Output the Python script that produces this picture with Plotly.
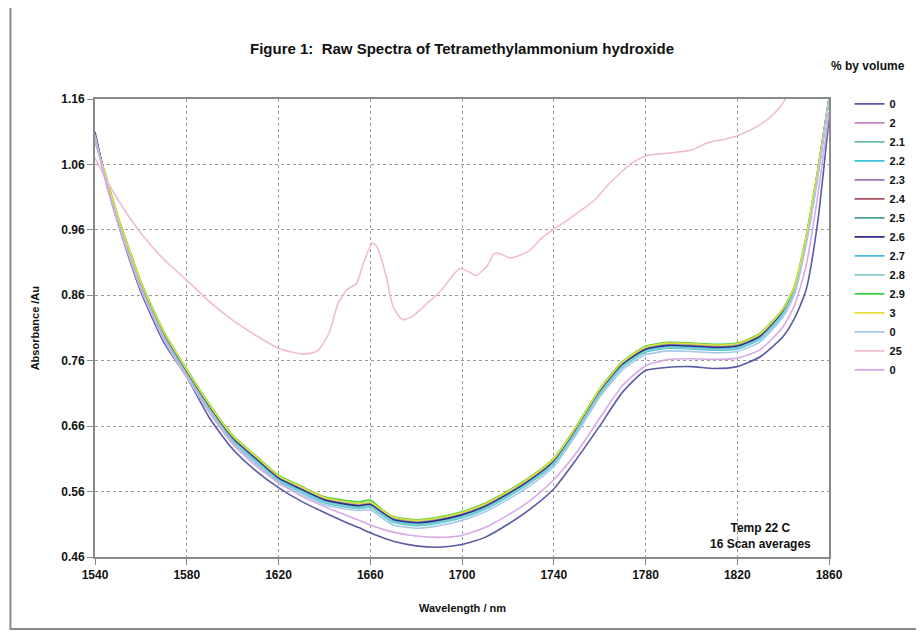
import plotly.graph_objects as go

# wavelengths (nm) shared by the 14 "band" spectra
wavelength = [1540, 1545, 1550, 1555, 1560, 1570, 1580, 1590, 1600, 1610,
              1620, 1630, 1640, 1650, 1655, 1660, 1665, 1670, 1680, 1690,
              1700, 1710, 1720, 1730, 1740, 1750, 1760, 1770, 1780, 1790,
              1800, 1810, 1820, 1830, 1840, 1845, 1850, 1855, 1860]

abs_0a = [1.110, 1.030, 0.970, 0.915, 0.865, 0.788, 0.735, 0.672, 0.625, 0.592,
          0.566, 0.545, 0.528, 0.512, 0.505, 0.497, 0.490, 0.484, 0.477, 0.475,
          0.479, 0.490, 0.510, 0.534, 0.564, 0.610, 0.660, 0.712, 0.745, 0.750,
          0.751, 0.748, 0.751, 0.766, 0.797, 0.825, 0.868, 0.970, 1.130]
abs_2 = [1.100, 1.036, 0.978, 0.927, 0.878, 0.802, 0.744, 0.690, 0.643, 0.612,
         0.582, 0.565, 0.549, 0.542, 0.540, 0.542, 0.530, 0.519, 0.514, 0.518,
         0.526, 0.539, 0.558, 0.580, 0.608, 0.658, 0.714, 0.756, 0.779, 0.785,
         0.784, 0.782, 0.784, 0.799, 0.837, 0.872, 0.947, 1.047, 1.160]
abs_2_1 = [1.098, 1.037, 0.979, 0.928, 0.879, 0.803, 0.745, 0.691, 0.644, 0.613,
           0.583, 0.566, 0.550, 0.543, 0.541, 0.543, 0.531, 0.520, 0.515, 0.519,
           0.527, 0.540, 0.559, 0.581, 0.609, 0.659, 0.715, 0.757, 0.780, 0.786,
           0.785, 0.783, 0.785, 0.800, 0.838, 0.873, 0.948, 1.048, 1.160]
abs_2_2 = [1.102, 1.031, 0.972, 0.921, 0.872, 0.796, 0.738, 0.684, 0.637, 0.606,
           0.576, 0.559, 0.543, 0.536, 0.534, 0.536, 0.524, 0.513, 0.508, 0.512,
           0.520, 0.533, 0.552, 0.574, 0.602, 0.652, 0.708, 0.750, 0.773, 0.779,
           0.778, 0.776, 0.778, 0.793, 0.831, 0.866, 0.941, 1.041, 1.160]
abs_2_3 = [1.104, 1.035, 0.977, 0.926, 0.877, 0.801, 0.743, 0.689, 0.642, 0.611,
           0.581, 0.564, 0.548, 0.541, 0.539, 0.541, 0.529, 0.518, 0.513, 0.517,
           0.525, 0.538, 0.557, 0.579, 0.607, 0.657, 0.713, 0.755, 0.778, 0.784,
           0.783, 0.781, 0.783, 0.798, 0.836, 0.871, 0.946, 1.046, 1.160]
abs_2_4 = [1.106, 1.035, 0.976, 0.925, 0.876, 0.800, 0.742, 0.688, 0.641, 0.610,
           0.580, 0.563, 0.547, 0.540, 0.538, 0.540, 0.528, 0.517, 0.512, 0.516,
           0.524, 0.537, 0.556, 0.578, 0.606, 0.656, 0.712, 0.754, 0.777, 0.783,
           0.782, 0.780, 0.782, 0.797, 0.835, 0.870, 0.945, 1.045, 1.160]
abs_2_5 = [1.103, 1.034, 0.975, 0.924, 0.875, 0.799, 0.741, 0.687, 0.640, 0.609,
           0.579, 0.562, 0.546, 0.539, 0.537, 0.539, 0.527, 0.516, 0.511, 0.515,
           0.523, 0.536, 0.555, 0.577, 0.605, 0.655, 0.711, 0.753, 0.776, 0.782,
           0.781, 0.779, 0.781, 0.796, 0.834, 0.869, 0.944, 1.044, 1.160]
abs_2_6 = [1.105, 1.035, 0.976, 0.925, 0.876, 0.800, 0.742, 0.688, 0.641, 0.610,
           0.580, 0.563, 0.547, 0.540, 0.538, 0.540, 0.528, 0.517, 0.512, 0.516,
           0.524, 0.537, 0.556, 0.578, 0.606, 0.656, 0.712, 0.754, 0.777, 0.783,
           0.782, 0.780, 0.782, 0.797, 0.835, 0.870, 0.945, 1.045, 1.160]
abs_2_7 = [1.101, 1.033, 0.974, 0.923, 0.874, 0.798, 0.740, 0.686, 0.639, 0.608,
           0.578, 0.561, 0.545, 0.538, 0.536, 0.538, 0.526, 0.515, 0.510, 0.514,
           0.522, 0.535, 0.554, 0.576, 0.604, 0.654, 0.710, 0.752, 0.775, 0.781,
           0.780, 0.778, 0.780, 0.795, 0.833, 0.868, 0.943, 1.043, 1.160]
abs_2_8 = [1.100, 1.032, 0.973, 0.922, 0.873, 0.797, 0.739, 0.685, 0.638, 0.607,
           0.577, 0.560, 0.544, 0.537, 0.535, 0.537, 0.525, 0.514, 0.509, 0.513,
           0.521, 0.534, 0.553, 0.575, 0.603, 0.653, 0.709, 0.751, 0.774, 0.780,
           0.779, 0.777, 0.779, 0.794, 0.832, 0.867, 0.942, 1.042, 1.160]
abs_2_9 = [1.095, 1.040, 0.981, 0.930, 0.881, 0.805, 0.747, 0.693, 0.646, 0.615,
           0.585, 0.568, 0.552, 0.546, 0.544, 0.547, 0.533, 0.522, 0.517, 0.521,
           0.529, 0.542, 0.561, 0.583, 0.611, 0.661, 0.717, 0.759, 0.782, 0.788,
           0.787, 0.785, 0.787, 0.802, 0.840, 0.875, 0.950, 1.050, 1.160]
abs_3 = [1.097, 1.039, 0.980, 0.929, 0.880, 0.804, 0.746, 0.692, 0.645, 0.614,
         0.584, 0.567, 0.551, 0.544, 0.542, 0.544, 0.532, 0.521, 0.516, 0.520,
         0.528, 0.541, 0.560, 0.582, 0.610, 0.660, 0.716, 0.758, 0.781, 0.787,
         0.786, 0.784, 0.786, 0.801, 0.839, 0.874, 0.949, 1.049, 1.160]
abs_0b = [1.105, 1.030, 0.970, 0.918, 0.869, 0.792, 0.735, 0.681, 0.634, 0.603,
          0.573, 0.556, 0.540, 0.533, 0.531, 0.532, 0.520, 0.509, 0.504, 0.508,
          0.516, 0.529, 0.548, 0.570, 0.598, 0.648, 0.704, 0.746, 0.769, 0.775,
          0.774, 0.772, 0.774, 0.789, 0.827, 0.862, 0.937, 1.037, 1.160]
abs_0c = [1.100, 1.030, 0.972, 0.920, 0.870, 0.793, 0.735, 0.680, 0.633, 0.600,
          0.574, 0.553, 0.537, 0.523, 0.516, 0.509, 0.503, 0.498, 0.492, 0.490,
          0.493, 0.505, 0.524, 0.547, 0.578, 0.620, 0.672, 0.722, 0.752, 0.762,
          0.763, 0.762, 0.764, 0.777, 0.812, 0.845, 0.905, 1.010, 1.140]

# the 25 % sample has its own, finer wavelength grid
wavelength_25 = [1540, 1546, 1552, 1560, 1570, 1580, 1590, 1600, 1610, 1620,
                 1626, 1631, 1637, 1642, 1646, 1650, 1654, 1657, 1661, 1663,
                 1667, 1670, 1674, 1678, 1684, 1691, 1695, 1699, 1703, 1706,
                 1711, 1714, 1717, 1721, 1729, 1734, 1740, 1746, 1752, 1758,
                 1764, 1770, 1774, 1780, 1789, 1800, 1807, 1815, 1820, 1827,
                 1833, 1838, 1842]
abs_25 = [1.070, 1.030, 0.995, 0.955, 0.915, 0.883, 0.850, 0.822, 0.799, 0.779,
          0.773, 0.770, 0.775, 0.802, 0.848, 0.869, 0.878, 0.909, 0.940, 0.934,
          0.888, 0.842, 0.823, 0.827, 0.845, 0.868, 0.886, 0.901, 0.896, 0.890,
          0.905, 0.924, 0.923, 0.917, 0.927, 0.945, 0.961, 0.975, 0.990, 1.006,
          1.030, 1.050, 1.062, 1.073, 1.077, 1.082, 1.093, 1.099, 1.104, 1.115,
          1.128, 1.145, 1.165]

series_names = ['0', '2', '2.1', '2.2', '2.3', '2.4', '2.5', '2.6', '2.7',
                '2.8', '2.9', '3', '0', '25', '0']
series_values = [abs_0a, abs_2, abs_2_1, abs_2_2, abs_2_3, abs_2_4, abs_2_5,
                 abs_2_6, abs_2_7, abs_2_8, abs_2_9, abs_3, abs_0b, abs_25, abs_0c]
series_colors = ['#5a5aa6', '#c886c8', '#6cbcae', '#3ec6d8', '#9a78b0', '#a85060',
                 '#4a9e9e', '#2c2c88', '#48bde0', '#86cccc', '#3ed23e', '#e6dc3a',
                 '#a8c8e6', '#f0bcd2', '#d6aae6']

FONT = 'Arial, Liberation Sans, sans-serif'

fig = go.Figure()
for name, vals, col in zip(series_names, series_values, series_colors):
    xs = wavelength_25 if vals is abs_25 else wavelength
    fig.add_trace(go.Scatter(x=xs, y=vals, name=name, mode='lines',
                             line=dict(color=col, width=1.6, shape='spline', smoothing=0.6)))

# page body adds 8 px on the top/left, so the figure is a bit smaller than the window
fig.update_layout(
    width=916, height=624,
    margin=dict(l=87, r=91, t=91, b=75),
    paper_bgcolor='white', plot_bgcolor='white',
    font=dict(family=FONT, size=11, color='#111'),
    title=dict(text='Figure 1:  Raw Spectra of Tetramethylammonium hydroxide',
               x=0.5, xref='paper', xanchor='center', y=0.935, yanchor='middle',
               font=dict(family=FONT, size=15, weight='bold', color='#111')),
    legend=dict(x=1.028, xanchor='left', y=1.021, yanchor='top',
                font=dict(family=FONT, size=11, weight='bold'),
                tracegroupgap=0, itemwidth=30, bgcolor='rgba(0,0,0,0)'),
    showlegend=True,
)

fig.update_xaxes(range=[1540, 1860], tick0=1540, dtick=40,
                 showgrid=True, gridcolor='#9a9a9a', griddash='dot', gridwidth=1,
                 showline=True, linecolor='#8a8a8a', linewidth=2, mirror=True,
                 ticks='outside', ticklen=6, tickcolor='#8a8a8a', zeroline=False,
                 tickfont=dict(family=FONT, size=12, weight='bold'))
fig.update_yaxes(range=[0.46, 1.16], tick0=0.46, dtick=0.1, tickformat='.2f',
                 showgrid=True, gridcolor='#9a9a9a', griddash='dot', gridwidth=1,
                 showline=True, linecolor='#8a8a8a', linewidth=2, mirror=True,
                 ticks='outside', ticklen=6, tickcolor='#8a8a8a', zeroline=False,
                 tickfont=dict(family=FONT, size=12, weight='bold'))

fig.add_annotation(text='% by volume', xref='paper', yref='paper', x=1.0, y=1.073,
                   xanchor='left', yanchor='middle', showarrow=False,
                   font=dict(family=FONT, size=12, weight='bold'))
fig.add_annotation(text='Absorbance /Au', xref='paper', yref='paper', x=-0.0813, y=0.5,
                   textangle=-90, xanchor='center', yanchor='middle', showarrow=False,
                   font=dict(family=FONT, size=11, weight='bold'))
fig.add_annotation(text='Wavelength / nm', xref='paper', yref='paper', x=0.5, y=-0.111,
                   xanchor='center', yanchor='middle', showarrow=False,
                   font=dict(family=FONT, size=11, weight='bold'))
fig.add_annotation(text='Temp 22 C<br>16 Scan averages', xref='paper', yref='paper',
                   x=0.906, y=0.046, xanchor='center', yanchor='middle', showarrow=False,
                   font=dict(family=FONT, size=12, weight='bold'))

# outer chart frame (left and bottom edges visible in the picture)
fig.add_shape(type='rect', xref='paper', yref='paper', x0=-0.1152, x1=1.3, y0=-0.157, y1=1.3,
              line=dict(color='#8a8a8a', width=2), layer='below')

fig.write_html("out.html")
